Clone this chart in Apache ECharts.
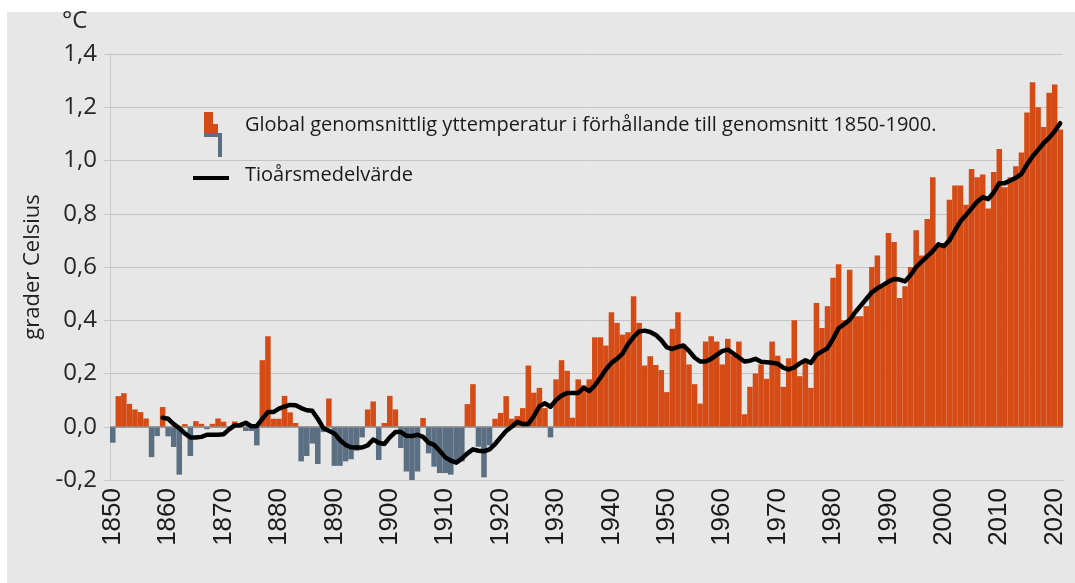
<!DOCTYPE html>
<html>
<head>
<meta charset="utf-8">
<script src="https://cdn.jsdelivr.net/npm/echarts/dist/echarts.min.js"></script>
<style>
  html, body { margin: 0; padding: 0; background: #ffffff; }
  #wrap { position: relative; width: 1075px; height: 583px; }
  #panel { position: absolute; left: 7px; top: 12px; right: 0; bottom: 0; background: #e7e7e7; }
  #main { position: absolute; left: 0; top: 0; width: 1075px; height: 583px; }
</style>
</head>
<body>
<div id="wrap">
  <div id="panel"></div>
  <div id="main"></div>
</div>
<script>
// years 1850-2021
var years = [];
for (var y = 1850; y <= 2021; y++) years.push(String(y));

// annual global mean surface temperature relative to 1850-1900 (°C)
var anomaly = [
  -0.06, 0.115, 0.126, 0.086, 0.065, 0.055, 0.031, -0.114, -0.035, 0.074,
  -0.036, -0.076, -0.18, 0.01, -0.11, 0.021, 0.011, -0.009, 0.011, 0.031,
  0.019, -0.005, 0.02, 0.005, -0.016, -0.016, -0.07, 0.25, 0.34, 0.03,
  0.03, 0.116, 0.054, 0.014, -0.13, -0.11, -0.063, -0.14, -0.02, 0.106,
  -0.147, -0.147, -0.13, -0.122, -0.09, -0.04, 0.065, 0.095, -0.125, 0.014,
  0.116, 0.065, -0.08, -0.168, -0.205, -0.168, 0.033, -0.1, -0.15, -0.174,
  -0.174, -0.18, -0.137, -0.13, 0.085, 0.16, -0.075, -0.19, -0.07, 0.03,
  0.052, 0.115, 0.03, 0.04, 0.07, 0.23, 0.128, 0.146, 0.07, -0.04,
  0.178, 0.25, 0.21, 0.034, 0.178, 0.156, 0.178, 0.336, 0.336, 0.305,
  0.43, 0.39, 0.346, 0.355, 0.49, 0.39, 0.23, 0.265, 0.232, 0.213,
  0.13, 0.368, 0.43, 0.31, 0.234, 0.16, 0.087, 0.32, 0.34, 0.32,
  0.234, 0.33, 0.267, 0.32, 0.047, 0.15, 0.2, 0.234, 0.18, 0.32,
  0.267, 0.15, 0.257, 0.40, 0.19, 0.24, 0.146, 0.465, 0.371, 0.453,
  0.56, 0.61, 0.40, 0.59, 0.415, 0.415, 0.453, 0.60, 0.643, 0.528,
  0.728, 0.694, 0.484, 0.528, 0.60, 0.738, 0.643, 0.78, 0.937, 0.684,
  0.69, 0.853, 0.906, 0.906, 0.834, 0.968, 0.937, 0.947, 0.82, 0.957,
  1.043, 0.9, 0.937, 0.978, 1.03, 1.18, 1.294, 1.2, 1.126, 1.254,
  1.285, 1.116
];

// ten-year mean, first value in 1859
var decadeMean = [
  null, null, null, null, null, null, null, null, null, 0.034,
  0.03, 0.01, -0.005, -0.025, -0.04, -0.04, -0.038, -0.03, -0.03, -0.03,
  -0.028, -0.01, 0.005, 0.006, 0.015, 0.002, 0.003, 0.03, 0.055, 0.055,
  0.068, 0.076, 0.082, 0.081, 0.07, 0.062, 0.06, 0.03, -0.005, -0.015,
  -0.025, -0.05, -0.068, -0.077, -0.078, -0.078, -0.07, -0.048, -0.06, -0.065,
  -0.04, -0.02, -0.02, -0.034, -0.035, -0.03, -0.038, -0.06, -0.068, -0.09,
  -0.115, -0.127, -0.135, -0.12, -0.1, -0.085, -0.09, -0.092, -0.085, -0.065,
  -0.04, -0.016, 0.0, 0.018, 0.01, 0.01, 0.04, 0.077, 0.088, 0.075,
  0.1, 0.117, 0.127, 0.127, 0.127, 0.146, 0.134, 0.155, 0.184, 0.215,
  0.24, 0.255, 0.275, 0.31, 0.337, 0.358, 0.361, 0.356, 0.345, 0.325,
  0.298, 0.292, 0.3, 0.305, 0.285, 0.26, 0.245, 0.245, 0.255, 0.27,
  0.284, 0.29, 0.275, 0.26, 0.245, 0.248, 0.255, 0.244, 0.242, 0.24,
  0.237, 0.222, 0.215, 0.223, 0.238, 0.25, 0.24, 0.27, 0.283, 0.295,
  0.33, 0.37, 0.385, 0.402, 0.43, 0.455, 0.48, 0.505, 0.52, 0.532,
  0.545, 0.555, 0.553, 0.546, 0.57, 0.6, 0.62, 0.64, 0.66, 0.685,
  0.678, 0.7, 0.737, 0.772, 0.795, 0.82, 0.845, 0.862, 0.855, 0.88,
  0.915, 0.915, 0.925, 0.935, 0.95, 0.985, 1.015, 1.04, 1.065, 1.085,
  1.11, 1.14
];

var warmColor = '#d54b16';
var coldColor = '#5b6f83';
var barName = 'Global genomsnittlig yttemperatur i förhållande till genomsnitt 1850-1900.';
var lineName = 'Tioårsmedelvärde';

var myChart = echarts.init(document.getElementById('main'));
var option = {
  animation: false,
  grid: { left: 110, right: 12, top: 54, bottom: 103 },
  xAxis: {
    type: 'category',
    data: years,
    axisLine: { onZero: false, lineStyle: { color: '#c8c8c8' } },
    axisTick: { show: false },
    axisLabel: {
      rotate: 90,
      margin: 8,
      fontSize: 26,
      fontFamily: 'Liberation Sans',
      color: '#1a1a1a',
      interval: function (index, value) { return Number(value) % 10 === 0; }
    }
  },
  yAxis: {
    type: 'value',
    min: -0.2,
    max: 1.4,
    interval: 0.2,
    name: 'grader Celsius',
    nameLocation: 'middle',
    nameGap: 66,
    nameTextStyle: { fontSize: 22, fontFamily: 'Open Sans', color: '#222' },
    axisLine: { show: true, lineStyle: { color: '#c8c8c8' } },
    axisTick: { show: true, length: 6, lineStyle: { color: '#c8c8c8' } },
    axisLabel: {
      margin: 13,
      fontSize: 24,
      fontFamily: 'Open Sans',
      color: '#262626',
      formatter: function (v) { return v.toFixed(1).replace('.', ','); }
    },
    splitLine: { lineStyle: { color: '#c4c4c4', width: 1 } }
  },
  series: [
    {
      name: barName,
      type: 'bar',
      data: anomaly,
      barWidth: '100%',
      itemStyle: {
        color: function (p) { return p.value >= 0 ? warmColor : coldColor; }
      },
      markLine: {
        silent: true,
        symbol: 'none',
        label: { show: false },
        lineStyle: { color: '#8a8a8a', width: 1.5, type: 'solid' },
        data: [{ yAxis: 0 }]
      }
    },
    {
      name: lineName,
      type: 'line',
      data: decadeMean,
      showSymbol: false,
      lineStyle: { color: '#000', width: 4.5, join: 'round', cap: 'round' },
      z: 5
    }
  ],
  graphic: [
    { type: 'text', left: 62, top: 9, style: { text: '°C', fontSize: 24, fontFamily: 'Open Sans', fill: '#262626' } },
    // legend icon for the bars
    { type: 'rect', shape: { x: 204, y: 112, width: 9, height: 21 }, style: { fill: warmColor } },
    { type: 'rect', shape: { x: 213, y: 124, width: 5, height: 9 }, style: { fill: warmColor } },
    { type: 'rect', shape: { x: 204, y: 133, width: 18, height: 4 }, style: { fill: coldColor } },
    { type: 'rect', shape: { x: 218, y: 133, width: 4, height: 24 }, style: { fill: coldColor } },
    { type: 'text', left: 245, top: 115, style: { text: barName, fontSize: 20, fontFamily: 'Open Sans', fill: '#1a1a1a' } },
    // legend line
    { type: 'line', shape: { x1: 193, y1: 178, x2: 229, y2: 178 }, style: { stroke: '#000', lineWidth: 4 } },
    { type: 'text', left: 245, top: 165, style: { text: lineName, fontSize: 20, fontFamily: 'Open Sans', fill: '#1a1a1a' } }
  ]
};
myChart.setOption(option);
</script>
</body>
</html>
